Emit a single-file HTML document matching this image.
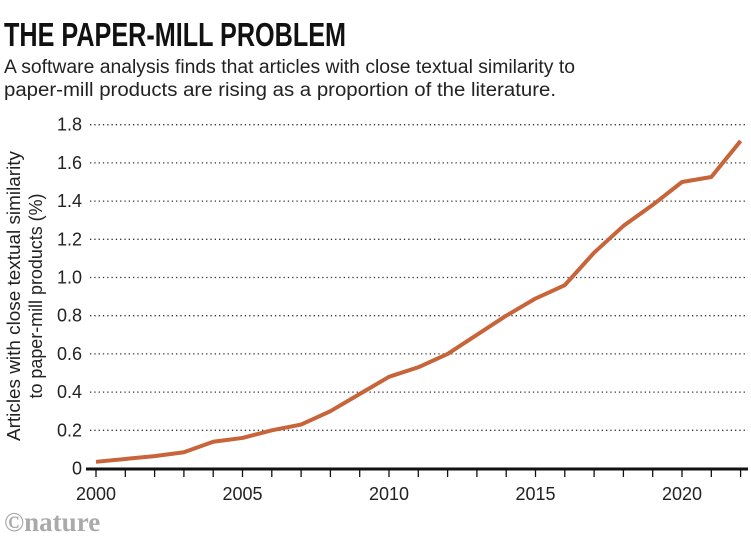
<!DOCTYPE html>
<html><head><meta charset="utf-8"><style>
body{margin:0;width:751px;height:552px;background:#fff;overflow:hidden;font-family:"Liberation Sans",sans-serif;}
</style></head><body>
<svg width="751" height="552" xmlns="http://www.w3.org/2000/svg">
<text x="4" y="46" font-size="33" font-weight="bold" fill="#111" textLength="342" lengthAdjust="spacingAndGlyphs" font-family="Liberation Sans Narrow, Liberation Sans, sans-serif">THE PAPER-MILL PROBLEM</text>
<text x="4" y="73" font-size="19" fill="#222" textLength="571" lengthAdjust="spacingAndGlyphs">A software analysis finds that articles with close textual similarity to</text>
<text x="4" y="96" font-size="19" fill="#222" textLength="552" lengthAdjust="spacingAndGlyphs">paper-mill products are rising as a proportion of the literature.</text>
<g transform="translate(20,296) rotate(-90)">
<text x="0" y="0" font-size="18" fill="#222" text-anchor="middle" textLength="290" lengthAdjust="spacingAndGlyphs">Articles with close textual similarity</text>
<text x="0" y="22" font-size="18" fill="#222" text-anchor="middle" textLength="205" lengthAdjust="spacingAndGlyphs">to paper-mill products (%)</text>
</g>
<g id="grid"></g><g id="xaxis"></g>
<path id="line" fill="none" stroke="#c8643a" stroke-width="4" stroke-linejoin="round"/>
<text x="4" y="531" font-size="27" font-weight="bold" fill="#aaa" font-family="Liberation Serif, serif">©nature</text>
</svg>
<script>
const years=[2000,2001,2002,2003,2004,2005,2006,2007,2008,2009,2010,2011,2012,2013,2014,2015,2016,2017,2018,2019,2020,2021,2022];
const values=[0.035,0.05,0.065,0.085,0.14,0.16,0.2,0.23,0.3,0.39,0.48,0.53,0.6,0.7,0.8,0.89,0.96,1.13,1.27,1.38,1.5,1.526,1.715];
const yTicks=[0,0.2,0.4,0.6,0.8,1.0,1.2,1.4,1.6,1.8];
const yTickLabels=["0","0.2","0.4","0.6","0.8","1.0","1.2","1.4","1.6","1.8"];
const xTickLabels=[2000,2005,2010,2015,2020];
const NS="http://www.w3.org/2000/svg";
const xs=y=>96+(y-2000)*29.3;
const ys=v=>468.5-v*191;
const grid=document.getElementById('grid'),xa=document.getElementById('xaxis');
yTicks.forEach((t,i)=>{
 if(t>0){const l=document.createElementNS(NS,'line');
 l.setAttribute('x1',90);l.setAttribute('x2',748);l.setAttribute('y1',ys(t));l.setAttribute('y2',ys(t));
 l.setAttribute('stroke','#333');l.setAttribute('stroke-width','1.3');l.setAttribute('stroke-dasharray','1.3 3');
 
 
 grid.appendChild(l);}
 const tx=document.createElementNS(NS,'text');
 tx.setAttribute('x',82);tx.setAttribute('y',ys(t)+6);tx.setAttribute('text-anchor','end');tx.setAttribute('font-size','18');tx.setAttribute('fill','#222');
 tx.textContent=yTickLabels[i];
 
 
 grid.appendChild(tx);
});
const ax=document.createElementNS(NS,'line');
ax.setAttribute('x1',86);ax.setAttribute('x2',748);ax.setAttribute('y1',469);ax.setAttribute('y2',469);ax.setAttribute('stroke','#111');ax.setAttribute('stroke-width','3');


xa.appendChild(ax);
years.forEach(y=>{const t=document.createElementNS(NS,'line');
 t.setAttribute('x1',xs(y));t.setAttribute('x2',xs(y));t.setAttribute('y1',469);t.setAttribute('y2',477);t.setAttribute('stroke','#111');t.setAttribute('stroke-width','1.3');
 
 
 xa.appendChild(t);});
xTickLabels.forEach(y=>{const tx=document.createElementNS(NS,'text');
 tx.setAttribute('x',xs(y));tx.setAttribute('y',500);tx.setAttribute('text-anchor','middle');tx.setAttribute('font-size','18');tx.setAttribute('fill','#222');
 tx.textContent=y;
 
 
 xa.appendChild(tx);});
document.getElementById('line').setAttribute('d',years.map((y,i)=>(i?'L':'M')+xs(y)+' '+ys(values[i])).join(' '));
</script>
</body></html>
